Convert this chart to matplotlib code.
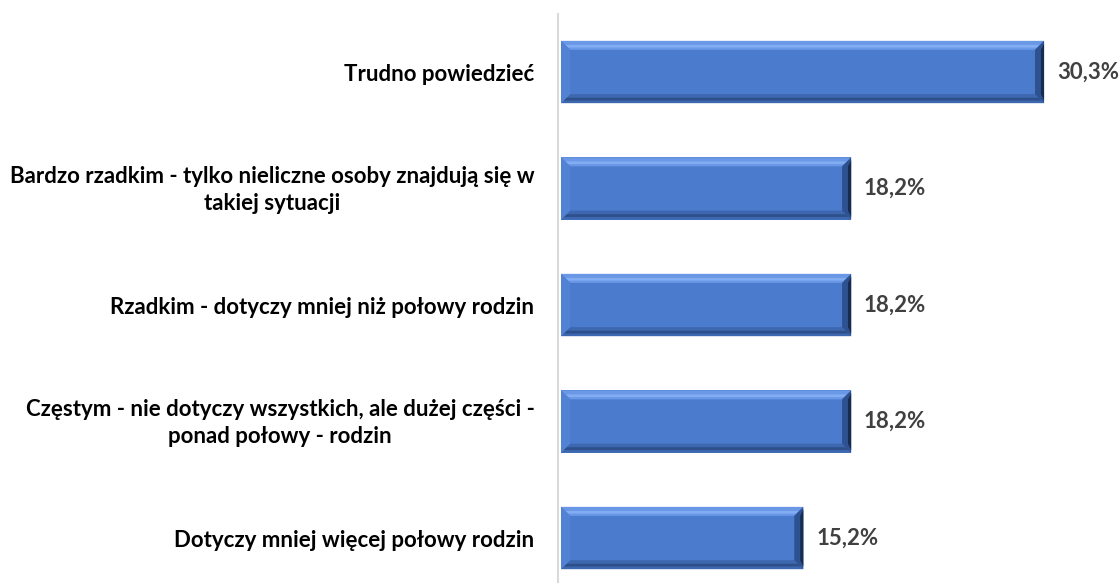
import matplotlib
matplotlib.use("Agg")
import matplotlib.pyplot as plt
from matplotlib.patches import Polygon
from matplotlib.transforms import ScaledTranslation
import numpy as np

categories = [
    "Trudno powiedzieć",
    "Bardzo rzadkim - tylko nieliczne osoby znajdują się w\ntakiej sytuacji",
    "Rzadkim - dotyczy mniej niż połowy rodzin",
    "Częstym - nie dotyczy wszystkich, ale dużej części -\nponad połowy - rodzin",
    "Dotyczy mniej więcej połowy rodzin",
]
values = [30.3, 18.2, 18.2, 18.2, 15.2]
value_labels = ["30,3%", "18,2%", "18,2%", "18,2%", "15,2%"]

plt.rcParams['font.family'] = ['Lato', 'DejaVu Sans']

W, H = 1119, 583
fig = plt.figure(figsize=(W / 100, H / 100), dpi=100)
ax = fig.add_axes([558 / W, 0, (W - 558) / W, 1 - 13.75 / H])

y = np.arange(len(categories))
bar_h = 0.535
main = "#4A7BCD"
ax.barh(y, values, height=bar_h, color=main, edgecolor="none", zorder=2)

# bevel effect
px_x = 1 / 15.8   # data units per pixel horizontally
px_y = 1 / 116.5
bx = 9 * px_x
by = 9 * px_y
for yi, v in zip(y, values):
    t, b = yi - bar_h / 2, yi + bar_h / 2
    l, r = 0, v
    # top (light)
    ax.add_patch(Polygon([(l, t), (r, t), (r - bx, t + by), (l + bx, t + by)],
                         closed=True, color="#6A98E6", lw=0, zorder=3))
    ax.add_patch(Polygon([(l + bx * 0.5, t + by * 0.45), (r - bx * 0.5, t + by * 0.45),
                          (r - bx * 0.8, t + by * 0.75), (l + bx * 0.8, t + by * 0.75)],
                         closed=True, color="#82ADF2", lw=0, zorder=3))
    # bottom (dark)
    ax.add_patch(Polygon([(l, b), (r, b), (r - bx, b - by), (l + bx, b - by)],
                         closed=True, color="#3D67AE", lw=0, zorder=3))
    ax.add_patch(Polygon([(l + bx * 0.3, b - by * 0.3), (r - bx * 0.3, b - by * 0.3),
                          (r - bx * 0.6, b - by * 0.6), (l + bx * 0.6, b - by * 0.6)],
                         closed=True, color="#2D4F8A", lw=0, zorder=3))
    # left (medium light)
    ax.add_patch(Polygon([(l, t), (l + bx, t + by), (l + bx, b - by), (l, b)],
                         closed=True, color="#5282D4", lw=0, zorder=3))
    # right (dark)
    ax.add_patch(Polygon([(r, t), (r - bx, t + by), (r - bx, b - by), (r, b)],
                         closed=True, color="#2E5190", lw=0, zorder=3))
    ax.add_patch(Polygon([(r, t + by * 0.3), (r - bx * 0.35, t + by), (r - bx * 0.35, b - by), (r, b - by * 0.3)],
                         closed=True, color="#172C52", lw=0, zorder=3))

for yi, v, lab in zip(y, values, value_labels):
    ax.text(v + 0.8, yi, lab, va="center", ha="left", fontsize=16,
            fontweight="bold", color="#404040")

ax.set_xlim(-3 * px_x, 35)
ax.set_ylim(4.386, -0.5)
ax.set_yticks(y)
ax.set_yticklabels(categories, fontsize=16, fontweight="bold", color="#000000",
                   multialignment="center", linespacing=1.4)
ax.tick_params(axis="y", length=0, pad=17)
for lab in ax.get_yticklabels():
    if "\n" in lab.get_text():
        lab.set_transform(lab.get_transform() +
                          ScaledTranslation(0, 4 / 100, fig.dpi_scale_trans))
ax.set_xticks([])
for s in ["top", "right", "bottom"]:
    ax.spines[s].set_visible(False)
ax.spines["left"].set_color("#D9D9D9")
ax.spines["left"].set_linewidth(1.5)

fig.savefig("out.png", dpi=100)
